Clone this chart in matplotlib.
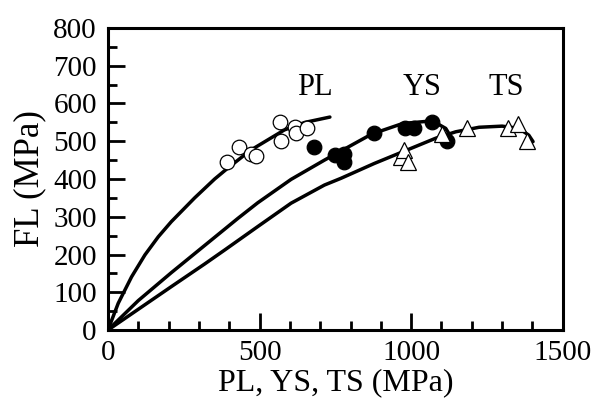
import matplotlib.pyplot as plt

plt.rcParams['font.family'] = ['Liberation Serif', 'DejaVu Serif']

# measured points
pl_x = [394, 432, 473, 489, 566, 572, 618, 621, 658]
pl_y = [445, 485, 467, 462, 550, 500, 539, 522, 535]

ys_x = [679, 748, 780, 780, 877, 979, 1008, 1068, 1117]
ys_y = [485, 464, 467, 444, 523, 535, 535, 550, 500]

ts_x = [966, 975, 988, 1101, 1185, 1320, 1353, 1383]
ts_y = [458, 477, 444, 519, 535, 535, 546, 500]

# fitted curves
pl_fit_x = [0, 34, 78, 122, 166, 209, 286, 352, 394, 470, 582, 650, 732]
pl_fit_y = [0, 71, 141, 199, 247, 287, 350, 400, 428, 476, 530, 550, 564]

ys_fit_x = [0, 100, 209, 319, 429, 494, 604, 714, 870, 972, 1070, 1114, 1131, 1134]
ys_fit_y = [0, 78, 152, 224, 296, 337, 399, 450, 519, 547, 554, 534, 512, 499]

ts_fit_x = [0, 100, 209, 319, 385, 494, 604, 714, 769, 878, 972, 1081, 1147,
            1224, 1300, 1356, 1388, 1402]
ts_fit_y = [0, 55, 115, 175, 212, 274, 336, 384, 402, 441, 472, 508, 525,
            537, 540, 534, 516, 499]

fig = plt.figure(figsize=(5.93, 4.05), dpi=100)
ax = fig.add_axes([0.182, 0.185, 0.767, 0.746])

for fx, fy in [(pl_fit_x, pl_fit_y), (ys_fit_x, ys_fit_y), (ts_fit_x, ts_fit_y)]:
    ax.plot(fx, fy, color='black', lw=2.5, zorder=2,
            solid_joinstyle='round', solid_capstyle='round')

ax.plot(pl_x, pl_y, 'o', ms=10.5, mfc='white', mec='black', mew=0.9, zorder=3)
ax.plot(ys_x, ys_y, 'o', ms=10.5, mfc='black', mec='black', mew=0.9, zorder=3)
ax.plot(ts_x, ts_y, '^', ms=12, mfc='white', mec='black', mew=0.9, zorder=3)

ax.text(681, 641, 'PL', fontsize=22, ha='center', va='center')
ax.text(1037, 641, 'YS', fontsize=22, ha='center', va='center')
ax.text(1313, 641, 'TS', fontsize=22, ha='center', va='center')

ax.set_xlim(0, 1500)
ax.set_ylim(0, 800)
ax.set_xticks([0, 500, 1000, 1500])
ax.set_xticks(range(0, 1501, 100), minor=True)
ax.set_yticks(range(0, 801, 100))
ax.set_yticks(range(0, 801, 50), minor=True)
ax.tick_params(which='both', direction='in', width=2, labelsize=21)
ax.tick_params(which='major', length=12)
ax.tick_params(which='minor', length=6.5)
ax.tick_params(axis='y', pad=8)
ax.tick_params(axis='x', pad=7)
for s in ax.spines.values():
    s.set_linewidth(2.2)

ax.set_xlabel('PL, YS, TS (MPa)', fontsize=23, labelpad=2)
ax.set_ylabel('FL (MPa)', fontsize=25, labelpad=5)

fig.savefig('out.png', dpi=100)
